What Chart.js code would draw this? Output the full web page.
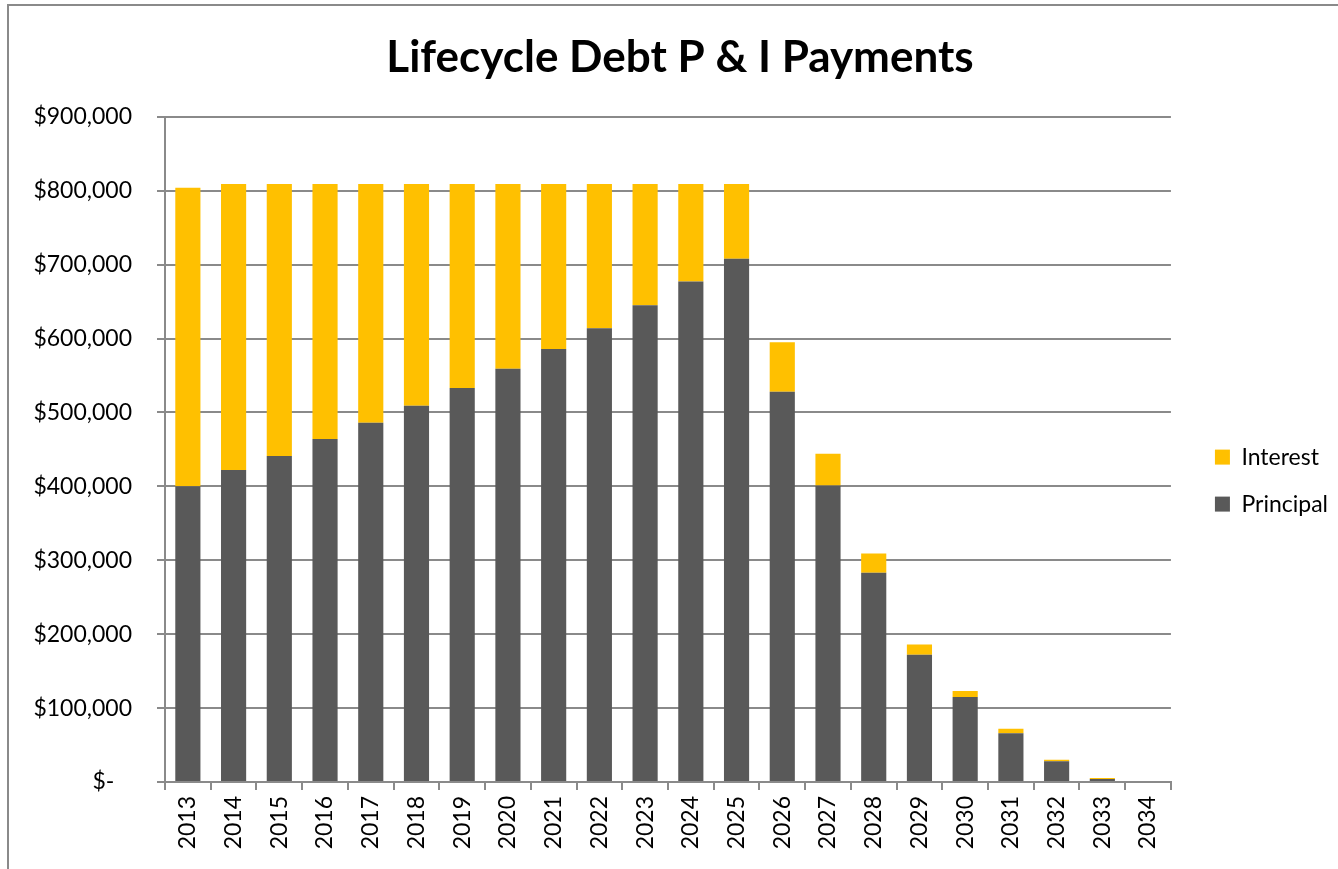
<!DOCTYPE html>
<html>
<head>
<meta charset="utf-8">
<script src="https://cdn.jsdelivr.net/npm/chart.js@4/dist/chart.umd.min.js"></script>
<style>
  html, body { margin: 0; padding: 0; background: #fff; }
  #wrap { position: relative; width: 1338px; height: 869px; }
  #frame { position: absolute; left: 7px; top: 4px; width: 1340px; height: 870px;
           border-left: 2px solid #8a8a8a; border-top: 2px solid #8a8a8a; pointer-events: none; }
</style>
</head>
<body>
<div id="wrap">
  <canvas id="myChart" width="1338" height="869"></canvas>
  <div id="frame"></div>
</div>
<script>
// years on the x axis
var years = ['2013', '2014', '2015', '2016', '2017', '2018', '2019', '2020', '2021', '2022', '2023',
             '2024', '2025', '2026', '2027', '2028', '2029', '2030', '2031', '2032', '2033', '2034'];

// principal paid each year ($)
var principal = [400000, 422000, 441000, 464000, 486000, 509000, 533000, 559000, 586000, 614000, 645000,
                 677000, 708000, 528000, 401000, 283000, 172000, 115000, 66000, 28000, 4000, 0];

// interest paid each year ($)
var interest = [404000, 387000, 368000, 345000, 323000, 300000, 276000, 250000, 223000, 195000, 164000,
                132000, 101000, 67000, 43000, 26000, 14000, 8000, 6000, 2000, 1500, 0];

// y axis tick values
var yTicks = [0, 100000, 200000, 300000, 400000, 500000, 600000, 700000, 800000, 900000];

var font = 'Lato, "Open Sans", sans-serif';
var gridGrey = '#8a8a8a';

var ctx = document.getElementById('myChart').getContext('2d');
var chart = new Chart(ctx, {
    type: 'bar',
    data: {
        labels: years,
        datasets: [{
            label: 'Principal',
            data: principal,
            backgroundColor: '#595959',
            borderWidth: 0
        },
        {
            label: 'Interest',
            data: interest,
            backgroundColor: '#ffc000',
            borderWidth: 0
        }]
    },
    options: {
        responsive: false,
        animation: false,
        layout: { padding: { left: 22, right: 0, top: 0, bottom: 0 } },
        datasets: {
            bar: { categoryPercentage: 1, barPercentage: 0.55 }
        },
        plugins: {
            title: {
                display: true,
                text: 'Lifecycle Debt P & I Payments',
                color: '#000',
                font: { family: font, size: 44, weight: 'bold' },
                padding: { top: 31, bottom: 33 }
            },
            legend: {
                position: 'right',
                reverse: true,
                // empty title just pushes the items down a bit
                title: { display: true, text: '', font: { size: 1 }, padding: { top: 91, bottom: 0 } },
                labels: {
                    color: '#000',
                    font: { family: font, size: 23 },
                    boxWidth: 15,
                    boxHeight: 15,
                    padding: 24
                }
            },
            tooltip: { enabled: false }
        },
        scales: {
            x: {
                stacked: true,
                afterFit: function (s) { s.height = 87; },
                grid: {
                    drawOnChartArea: false,
                    tickLength: 8,
                    tickColor: gridGrey,
                    lineWidth: 2
                },
                border: { color: gridGrey, width: 2 },
                ticks: {
                    color: '#000',
                    font: { family: font, size: 23 },
                    minRotation: 90,
                    maxRotation: 90,
                    padding: 6,
                    autoSkip: false
                }
            },
            y: {
                stacked: true,
                min: 0,
                max: 900000,
                afterFit: function (s) { s.width = 143; },
                afterBuildTicks: function (s) {
                    s.ticks = yTicks.map(function (v) { return { value: v }; });
                },
                grid: {
                    color: gridGrey,
                    lineWidth: 2,
                    tickLength: 8,
                    tickColor: gridGrey
                },
                border: { color: gridGrey, width: 2 },
                ticks: {
                    color: '#000',
                    font: { family: font, size: 23 },
                    padding: 25,
                    callback: function (v) {
                        return v === 0 ? '$-   ' : '$' + v.toLocaleString('en-US');
                    }
                }
            },
            // empty axis on the right, only leaves a gap before the legend
            gap: {
                position: 'right',
                display: true,
                afterFit: function (s) { s.width = 20; },
                grid: { display: false },
                border: { display: false },
                ticks: { display: false }
            }
        }
    }
});
</script>
</body>
</html>
